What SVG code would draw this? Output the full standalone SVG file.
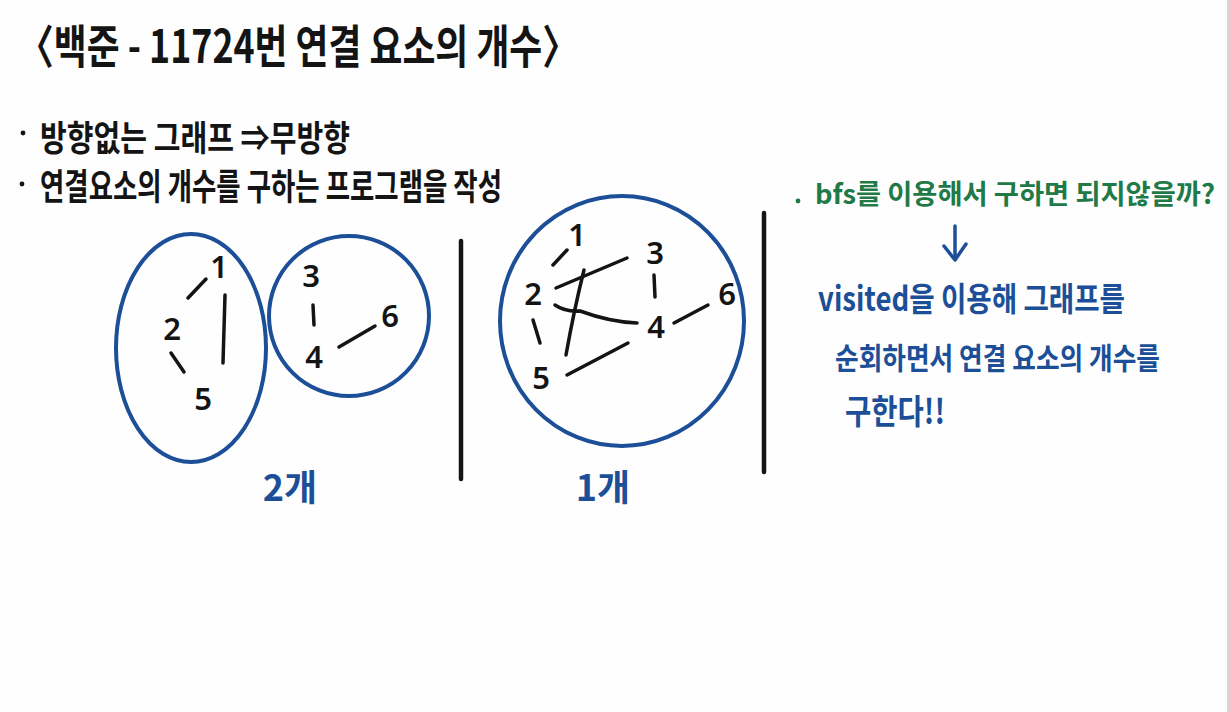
<svg xmlns="http://www.w3.org/2000/svg" width="1229" height="712" viewBox="0 0 1229 712">
<style>
.t{font-family:"Noto Sans CJK KR","Noto Sans",sans-serif;fill:#141414;font-weight:700}
.n{font-family:"Noto Sans","DejaVu Sans",sans-serif;fill:#141414;font-size:31px;font-weight:600;text-anchor:middle}
.b{fill:#1c4f97}
.g{fill:#1f7a47}
.e{stroke:#141414;stroke-width:3.5;stroke-linecap:round;fill:none}
.grp{stroke:#1c4f97;stroke-width:4;fill:none}
.div{stroke:#141414;stroke-width:4.5;stroke-linecap:round}
</style>
<rect width="1229" height="712" fill="#fefefe"/>
<line x1="1228" y1="0" x2="1228" y2="712" stroke="#c8c8c8" stroke-width="1.5"/>

<g id="title">
<text class="t" x="18" y="63" font-size="46" textLength="560" lengthAdjust="spacingAndGlyphs">〈백준 - 11724번 연결 요소의 개수〉</text>
</g>

<g id="notes">
<circle cx="23" cy="133" r="2.4" fill="#141414"/>
<text class="t" x="40" y="151" font-size="35" textLength="310" lengthAdjust="spacingAndGlyphs">방향없는 그래프 ⇒무방향</text>
<circle cx="22" cy="184" r="2.4" fill="#141414"/>
<text class="t" x="40" y="200" font-size="36" textLength="462" lengthAdjust="spacingAndGlyphs">연결요소의 개수를 구하는 프로그램을 작성</text>
</g>

<g id="separators">
<line class="div" x1="461" y1="241" x2="461" y2="479"/>
<line class="div" x1="764" y1="213" x2="764" y2="472"/>
</g>

<g id="example1">
<ellipse class="grp" cx="191" cy="348" rx="75" ry="114"/>
<circle class="grp" cx="349" cy="316" r="80"/>
<g class="edges">
<line class="e" x1="188" y1="298" x2="206" y2="279"/>
<line class="e" x1="225" y1="295" x2="223" y2="363"/>
<line class="e" x1="171" y1="353" x2="184" y2="372"/>
<line class="e" x1="313" y1="305" x2="314" y2="325"/>
<line class="e" x1="339" y1="347" x2="375" y2="326"/>
</g>
<g id="n1a"><text class="n" x="219" y="278">1</text></g>
<g id="n2a"><text class="n" x="172" y="340">2</text></g>
<g id="n5a"><text class="n" x="203" y="410">5</text></g>
<g id="n3a"><text class="n" x="311" y="287">3</text></g>
<g id="n4a"><text class="n" x="314" y="368">4</text></g>
<g id="n6a"><text class="n" x="390" y="327">6</text></g>
<text class="t b" x="290" y="501" font-size="36" text-anchor="middle">2개</text>
</g>

<g id="example2">
<ellipse class="grp" cx="622" cy="321" rx="122" ry="125"/>
<g class="edges">
<line class="e" x1="553" y1="265" x2="567" y2="250"/>
<line class="e" x1="556" y1="288" x2="627" y2="258"/>
<path class="e" d="M584 270 Q574 310 566 355"/>
<path class="e" d="M555 305 Q565 312 580 311 Q610 322 637 323"/>
<line class="e" x1="533" y1="320" x2="540" y2="343"/>
<line class="e" x1="654" y1="275" x2="655" y2="297"/>
<line class="e" x1="674" y1="323" x2="708" y2="305"/>
<line class="e" x1="567" y1="375" x2="628" y2="343"/>
</g>
<g id="n1b"><text class="n" x="577" y="246">1</text></g>
<g id="n2b"><text class="n" x="533" y="305">2</text></g>
<g id="n3b"><text class="n" x="655" y="264">3</text></g>
<g id="n4b"><text class="n" x="656" y="338">4</text></g>
<g id="n5b"><text class="n" x="541" y="389">5</text></g>
<g id="n6b"><text class="n" x="727" y="305">6</text></g>
<text class="t b" x="603" y="501" font-size="36" text-anchor="middle">1개</text>
</g>

<g id="idea">
<circle cx="798" cy="201" r="2.4" fill="#1f7a47"/>
<text class="t g" x="815" y="204" font-size="27" textLength="400" lengthAdjust="spacingAndGlyphs">bfs를 이용해서 구하면 되지않을까?</text>
<g stroke="#1c4f97" stroke-width="3.5" stroke-linecap="round" stroke-linejoin="round" fill="none">
<line x1="955" y1="226" x2="955" y2="259"/>
<polyline points="944,246 955,260 966,244"/>
</g>
<text class="t b" x="818" y="311" font-size="33" textLength="307" lengthAdjust="spacingAndGlyphs">visited을 이용해 그래프를</text>
<text class="t b" x="835" y="369" font-size="30" textLength="325" lengthAdjust="spacingAndGlyphs">순회하면서 연결 요소의 개수를</text>
<text class="t b" x="845" y="424" font-size="34" textLength="100" lengthAdjust="spacingAndGlyphs">구한다!!</text>
</g>
</svg>
